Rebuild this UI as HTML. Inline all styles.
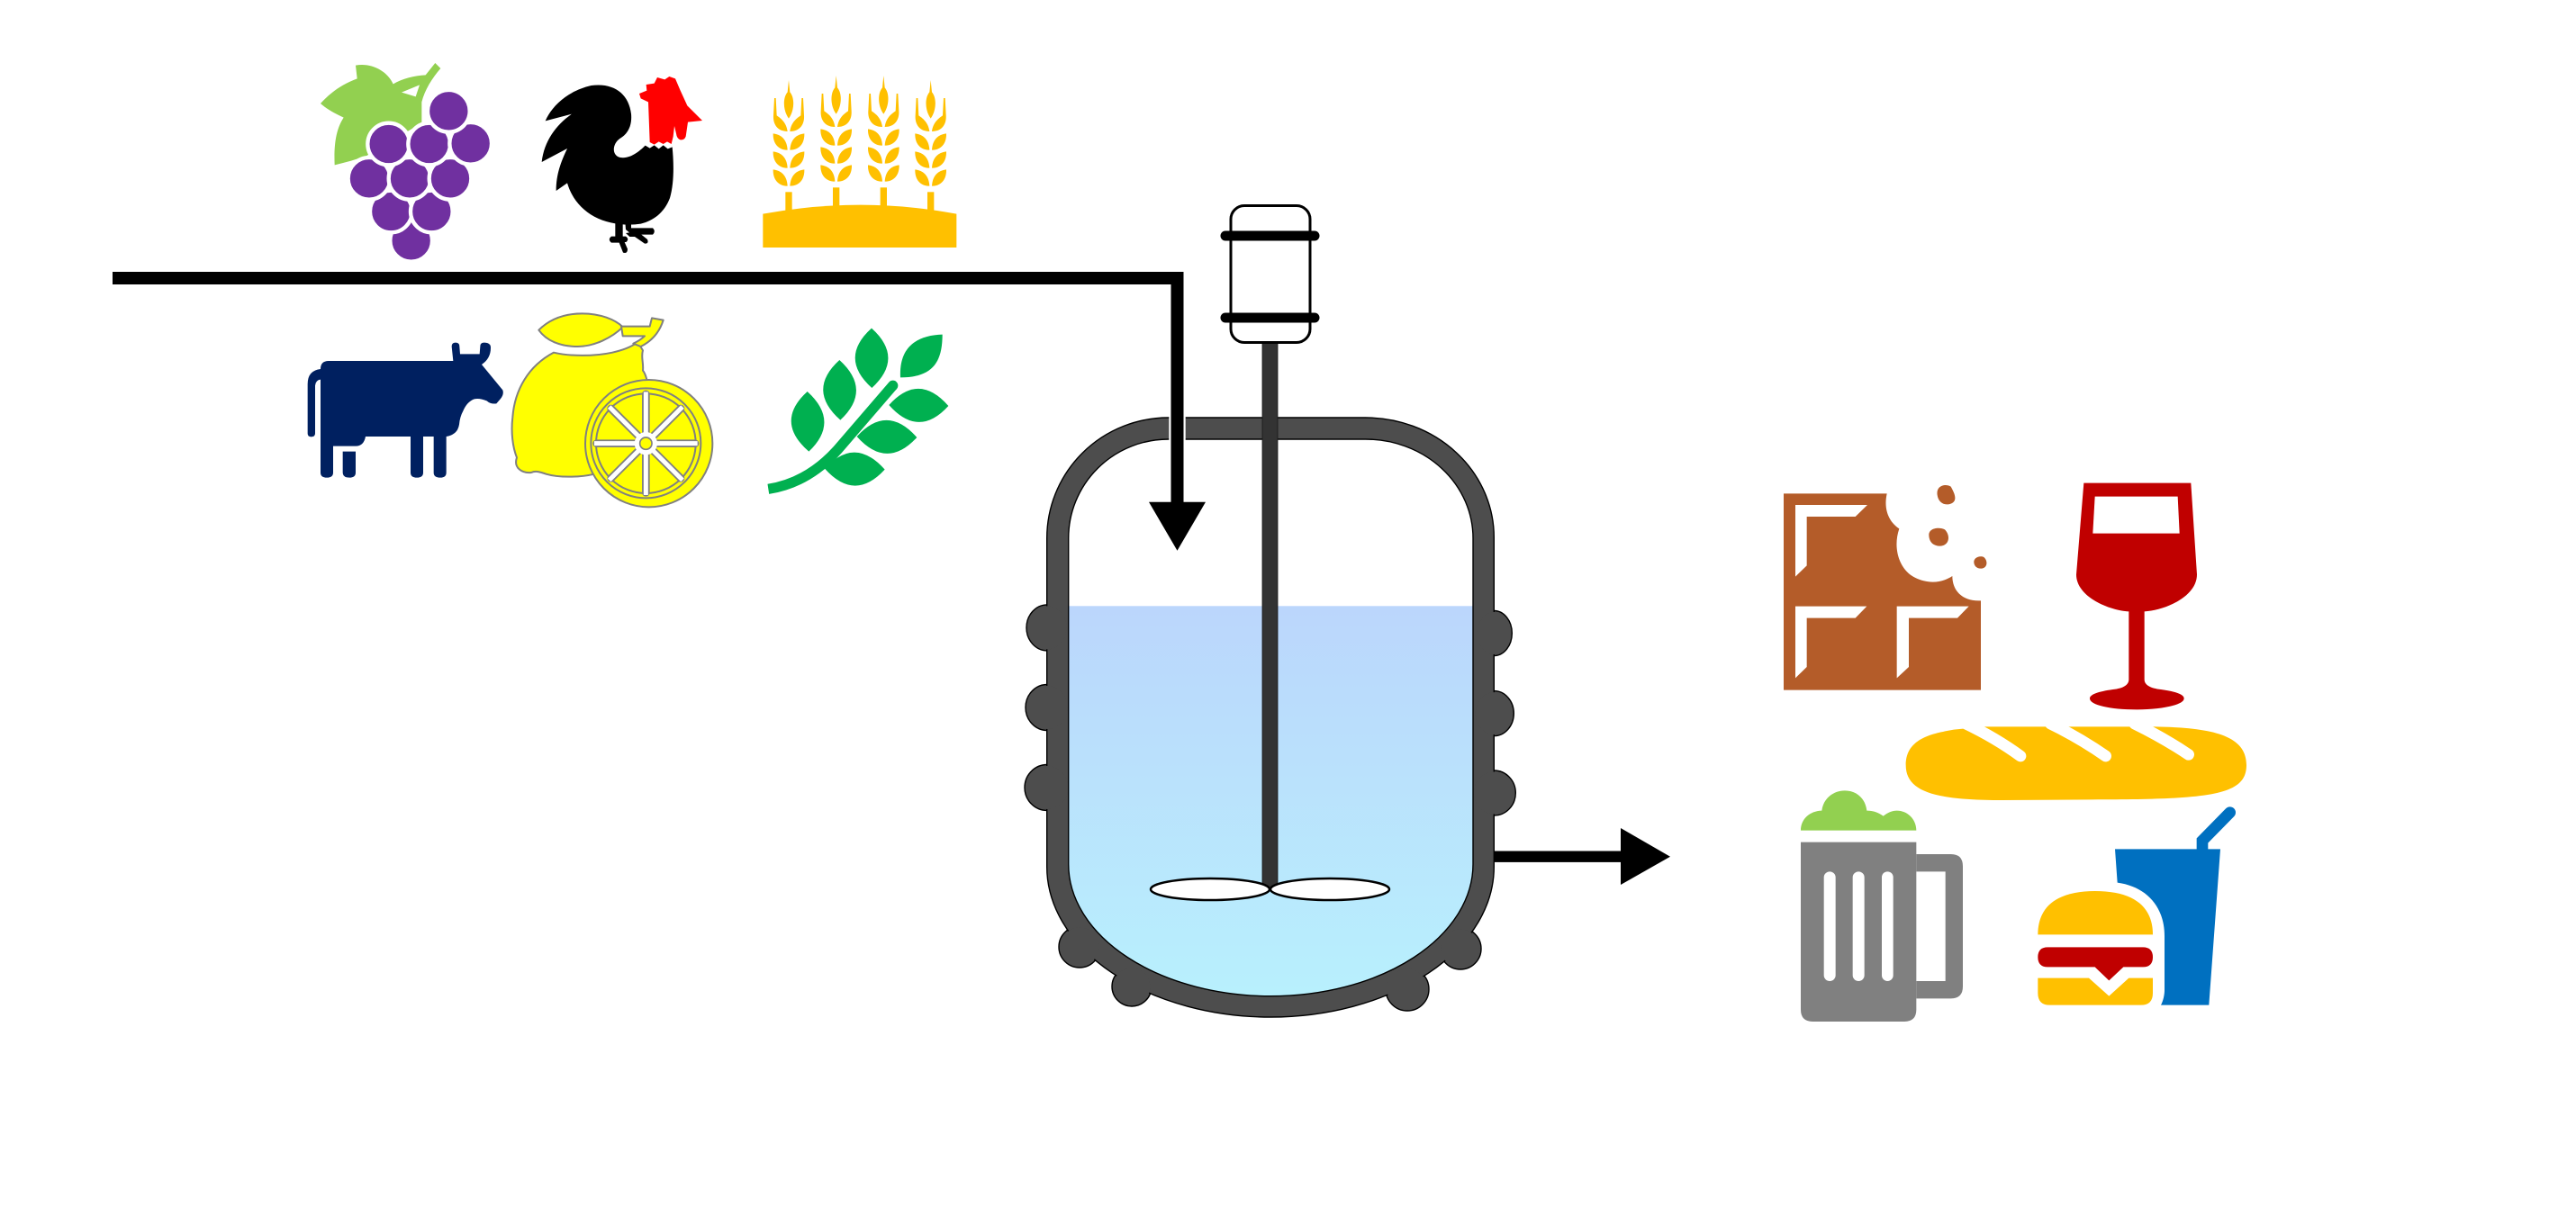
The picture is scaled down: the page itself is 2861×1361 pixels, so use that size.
<!DOCTYPE html>
<html><head><meta charset="utf-8"><style>
html,body{margin:0;padding:0;background:#fff;}
svg{display:block;}
</style></head><body>
<svg width="2861" height="1361" viewBox="0 0 2861 1361" xmlns="http://www.w3.org/2000/svg">
<defs>
  <linearGradient id="liq" x1="0" y1="673" x2="0" y2="1107" gradientUnits="userSpaceOnUse">
    <stop offset="0" stop-color="#bbd6fc"/>
    <stop offset="1" stop-color="#b8f0fd"/>
  </linearGradient>
  <clipPath id="innerClip">
    <path d="M1186.7,960 L1186.7,598 A111,110 0 0 1 1297.7,488 L1516.7,488 A119.3,110 0 0 1 1636,598 L1636,960 A224.65,146.7 0 0 1 1186.7,960 Z"/>
  </clipPath>
  <g id="wh" fill="#ffc000">
    <path d="M0,0 L4,40 C20,58 20,100 0,128 C-20,100 -20,58 -4,40 Z"/>
    <path d="M-4,171 C-35,171 -53,150 -51,118 L-48,60 L-43,60 L-40,118 C-28,126 -8,140 -4,171 Z"/>
    <path d="M4,171 C35,171 53,150 51,118 L48,60 L43,60 L40,118 C28,126 8,140 4,171 Z"/>
    <path d="M-4,233 C-35,233 -53,211 -52,178 C-25,181 -6,198 -4,233 Z"/>
    <path d="M4,233 C35,233 53,211 52,178 C25,181 6,198 4,233 Z"/>
    <path d="M-4,293 C-35,293 -53,271 -52,238 C-25,241 -6,258 -4,293 Z"/>
    <path d="M4,293 C35,293 53,271 52,238 C25,241 6,258 4,293 Z"/>
    <path d="M-4,353 C-35,353 -53,331 -52,298 C-25,301 -6,318 -4,353 Z"/>
    <path d="M4,353 C35,353 53,331 52,298 C25,301 6,318 4,353 Z"/>
    <rect x="-11" y="373" width="22" height="80"/>
  </g>
</defs>

<!-- ============ GRAPES (zoom4 coords) ============ -->
<g transform="translate(340,60) scale(0.33333)">
  <path fill="#92d050" d="M48,165 C80,130 120,100 170,82 L165,38 C215,28 270,55 290,100 C320,82 360,72 398,70 L430,30 L448,48 C420,80 395,120 385,160 L385,230 L200,340 L150,356 L95,370 C92,300 100,250 125,212 C100,200 70,185 48,165 Z"/>
  <path fill="#fff" d="M318,128 L365,142 L378,103 Z"/>
  <g fill="#7030a0" stroke="#fff" stroke-width="13">
    <circle cx="350" cy="622" r="70"/>
    <circle cx="283" cy="525" r="70"/>
    <circle cx="418" cy="525" r="70"/>
    <circle cx="210" cy="415" r="70"/>
    <circle cx="345" cy="415" r="70"/>
    <circle cx="480" cy="415" r="70"/>
    <circle cx="275" cy="300" r="70"/>
    <circle cx="410" cy="300" r="70"/>
    <circle cx="548" cy="298" r="70"/>
    <circle cx="475" cy="190" r="70"/>
  </g>
</g>

<!-- ============ ROOSTER (zoom coords offset 595,80) ============ -->
<g transform="translate(595,80) scale(0.33333)">
  <path fill="#000" d="M32,163 C55,110 110,62 185,45 C260,35 310,72 318,140 C322,185 302,210 280,222 C255,240 252,278 282,285 C312,290 342,268 365,245 L380,254 L395,244 L410,256 L425,244 L440,256 L455,250 C460,300 462,370 447,420 C428,470 392,495 350,506 C300,514 240,506 195,482 C150,456 120,420 105,370 L68,396 C68,340 84,300 105,255 L20,300 C28,230 68,176 120,140 Z"/>
  <path fill="#000" d="M265,495 L290,495 L290,548 L300,548 Q313,557 301,567 L296,567 L306,590 Q306,607 291,602 L278,569 L252,569 Q239,558 252,548 L265,548 Z"/>
  <path fill="#000" d="M298,500 L318,500 L318,520 L390,520 Q401,531 390,542 L352,542 L372,558 Q378,573 363,572 L330,549 L313,549 L300,537 L312,535 L300,525 Z"/>
  <path fill="#ff0000" d="M345,72 L370,62 L368,42 L395,38 L405,18 L430,25 L445,15 L465,22 L482,62 L505,112 L555,162 L507,167 L500,215 Q495,228 482,226 Q470,222 468,205 L462,180 L458,215 L452,240 L438,232 L425,240 L410,232 L395,242 L380,234 L378,180 L375,100 L350,88 Z"/>
</g>

<!-- ============ WHEAT + OLIVE (zoom5 coords) ============ -->
<g transform="translate(830,70) scale(0.33333)">
  <use href="#wh" transform="translate(138,57)"/>
  <use href="#wh" transform="translate(296,42)"/>
  <use href="#wh" transform="translate(454,42)"/>
  <use href="#wh" transform="translate(611,57)"/>
  <path fill="#ffc000" d="M52,503 Q380,443 697,503 L697,615 L52,615 Z"/>
  <g fill="#00b050">
    <path d="M70,1420 Q200,1400 300,1290 L485,1075" fill="none" stroke="#00b050" stroke-width="34"/>
    <circle cx="485" cy="1075" r="17"/>
    <path d="M200,1095 Q310,1195 205,1295 Q90,1195 200,1095 Z"/>
    <path d="M307,990 Q417,1090 310,1190 Q197,1090 307,990 Z"/>
    <path d="M414,884 Q524,983 415,1083 Q304,983 414,884 Z"/>
    <path d="M472,1140 Q571,1030 670,1143 Q571,1252 472,1140 Z"/>
    <path d="M365,1245 Q465,1135 565,1248 Q465,1357 365,1245 Z"/>
    <path d="M258,1352 Q358,1242 458,1355 Q358,1464 258,1352 Z"/>
    <path d="M510,1048 C505,950 560,908 650,905 C650,1000 615,1048 510,1048 Z"/>
  </g>
</g>

<!-- ============ COW (zoom6 coords) ============ -->
<g transform="translate(330,330) scale(0.33333)">
  <path fill="#002060" d="M78,240 Q78,213 105,213 L520,213 L515,165 Q515,152 528,152 Q541,152 541,165 L543,190 L608,190 L610,165 Q610,152 623,152 Q646,152 645,170 Q645,205 615,225 L685,310 Q690,325 677,340 L664,355 Q645,358 632,346 Q608,336 590,340 Q565,350 553,380 Q542,400 540,425 Q535,458 497,465 L497,585 Q497,602 477,602 Q455,602 455,585 L455,465 L420,465 L420,585 Q420,602 399,602 Q378,602 378,585 L378,465 L228,465 Q222,497 195,497 L120,497 L120,585 Q120,602 99,602 Q78,602 78,585 Z"/>
  <path fill="#002060" d="M152,515 L195,515 L195,585 Q195,602 174,602 Q152,602 152,585 Z"/>
  <path fill="#002060" d="M35,455 L35,290 Q35,245 78,240 L78,275 Q62,277 60,295 L60,455 Q60,466 47,466 Q35,466 35,455 Z"/>
</g>

<!-- ============ LEMON (zoom coords offset 560,340) ============ -->
<g transform="translate(560,340) scale(0.33333)">
  <g stroke="#808080" stroke-width="6" fill="#ffff00" stroke-linejoin="round">
    <path d="M165,155 C220,168 300,168 360,155 C400,146 430,132 445,120 L462,148 C455,170 465,190 462,215 C470,225 472,235 475,245 L480,250 L300,560 C250,572 180,572 140,560 C120,553 105,548 90,555 C60,558 30,540 42,505 C28,470 22,420 28,370 C35,280 80,200 165,155 Z"/>
    <path d="M115,80 C150,45 200,25 260,25 C320,25 370,45 395,70 C360,105 300,135 245,135 C185,135 140,115 115,80 Z"/>
    <path d="M390,68 L485,68 L492,40 L530,47 C518,85 495,115 455,135 L430,125 C445,118 458,110 468,100 L395,100 Z"/>
    <circle cx="482" cy="458" r="212"/>
    <circle cx="472" cy="457" r="183"/>
    <circle cx="472" cy="458" r="166"/>
  </g>
  <g stroke="#808080" stroke-width="26" stroke-linecap="round">
    <line x1="308" y1="458" x2="636" y2="458"/>
    <line x1="472" y1="294" x2="472" y2="622"/>
    <line x1="356" y1="342" x2="588" y2="574"/>
    <line x1="356" y1="574" x2="588" y2="342"/>
  </g>
  <g stroke="#fff" stroke-width="15">
    <line x1="300" y1="458" x2="644" y2="458"/>
    <line x1="472" y1="286" x2="472" y2="630"/>
    <line x1="350" y1="336" x2="594" y2="580"/>
    <line x1="350" y1="580" x2="594" y2="336"/>
  </g>
  <circle cx="472" cy="458" r="38" fill="#fff"/>
  <circle cx="472" cy="458" r="20" fill="#ffff00" stroke="#808080" stroke-width="5"/>
</g>

<!-- ============ VESSEL ============ -->
<g stroke="#000" stroke-width="1.4" fill="#4d4d4d">
  <ellipse cx="1163" cy="697.4" rx="23" ry="25.5"/>
  <ellipse cx="1163" cy="786" rx="24" ry="25.5"/>
  <ellipse cx="1163" cy="875" rx="25" ry="25.5"/>
  <ellipse cx="1659.3" cy="703.5" rx="20" ry="25"/>
  <ellipse cx="1659.3" cy="792.6" rx="22" ry="25"/>
  <ellipse cx="1659.3" cy="881" rx="24" ry="25"/>
  <circle cx="1199" cy="1052" r="23"/>
  <circle cx="1257" cy="1096" r="22"/>
  <circle cx="1563" cy="1099" r="24"/>
  <circle cx="1622" cy="1054" r="23"/>
  <path d="M1162.7,963 L1162.7,598 A135,134 0 0 1 1297.7,464 L1516.7,464 A142.6,133 0 0 1 1659.3,597 L1659.3,963 A248.3,167 0 0 1 1162.7,963 Z"/>
</g>
<g fill="#4d4d4d">
  <ellipse cx="1163" cy="697.4" rx="21.5" ry="24"/>
  <ellipse cx="1163" cy="786" rx="22.5" ry="24"/>
  <ellipse cx="1163" cy="875" rx="23.5" ry="24"/>
  <ellipse cx="1659.3" cy="703.5" rx="18.5" ry="23.5"/>
  <ellipse cx="1659.3" cy="792.6" rx="20.5" ry="23.5"/>
  <ellipse cx="1659.3" cy="881" rx="22.5" ry="23.5"/>
  <circle cx="1199" cy="1052" r="21.5"/>
  <circle cx="1257" cy="1096" r="20.5"/>
  <circle cx="1563" cy="1099" r="22.5"/>
  <circle cx="1622" cy="1054" r="21.5"/>
</g>
<path fill="#fff" d="M1186.7,960 L1186.7,598 A111,110 0 0 1 1297.7,488 L1516.7,488 A119.3,110 0 0 1 1636,598 L1636,960 A224.65,146.7 0 0 1 1186.7,960 Z"/>
<rect x="1150" y="673.3" width="520" height="460" fill="url(#liq)" clip-path="url(#innerClip)"/>
<path fill="none" stroke="#000" stroke-width="1.4" d="M1186.7,960 L1186.7,598 A111,110 0 0 1 1297.7,488 L1516.7,488 A119.3,110 0 0 1 1636,598 L1636,960 A224.65,146.7 0 0 1 1186.7,960 Z"/>
<rect x="1298.3" y="461" width="18.4" height="30" fill="#fff"/>

<!-- shaft -->
<rect x="1402" y="380" width="17" height="608" fill="#333" stroke="#1a1a1a" stroke-width="0.8"/>
<!-- impeller -->
<ellipse cx="1344" cy="988" rx="66" ry="12" fill="#fff" stroke="#000" stroke-width="2.5"/>
<ellipse cx="1477" cy="988" rx="66" ry="12" fill="#fff" stroke="#000" stroke-width="2.5"/>
<!-- motor -->
<rect x="1367" y="228.5" width="88" height="152" rx="15" ry="15" fill="#fff" stroke="#000" stroke-width="3"/>
<line x1="1361" y1="262" x2="1460" y2="262" stroke="#000" stroke-width="11" stroke-linecap="round"/>
<line x1="1361" y1="353" x2="1460" y2="353" stroke="#000" stroke-width="11" stroke-linecap="round"/>

<!-- feed line -->
<polyline points="125,309 1307.5,309 1307.5,562" fill="none" stroke="#000" stroke-width="14" stroke-linejoin="miter"/>
<polygon points="1276,557.7 1339,557.7 1307.5,611.7" fill="#000"/>

<!-- outlet -->
<rect x="1659" y="945.5" width="143" height="12.4" fill="#000"/>
<polygon points="1800,920 1855,951.7 1800,983" fill="#000"/>

<!-- ============ CHOCOLATE + WINE (zoom7 coords) ============ -->
<g transform="translate(1970,520) scale(0.33333)">
  <path fill="#b45c29" d="M33,85 L377,85 C365,140 385,180 418,202 C395,270 420,340 470,365 C520,390 565,380 595,360 C595,410 630,445 690,442 L690,740 L33,740 Z"/>
  <g fill="#fff">
    <polygon points="72,123 312,123 272,162 110,162 110,325 72,362"/>
    <polygon points="72,461 310,461 272,500 110,500 110,663 72,700"/>
    <polygon points="410,461 650,461 612,500 450,500 450,663 410,700"/>
  </g>
  <g fill="#b45c29">
    <path d="M545,90 C540,60 570,50 590,62 C600,80 610,100 600,112 C585,128 550,125 545,90 Z"/>
    <path d="M517,225 C515,200 550,195 570,205 C590,225 585,258 555,260 C530,260 518,245 517,225 Z"/>
    <path d="M667,315 C665,300 685,290 700,297 C715,310 712,335 690,335 C675,335 668,325 667,315 Z"/>
  </g>
  <path fill="#c00000" d="M1033,50 L1390,50 L1410,355 C1410,430 1300,475 1235,478 L1235,705 C1235,725 1260,735 1290,738 C1340,745 1367,755 1367,768 C1367,790 1290,805 1210,805 C1120,805 1053,790 1053,768 C1053,755 1080,745 1130,738 C1160,735 1183,725 1183,705 L1183,478 C1120,475 1008,430 1008,355 Z"/>
  <polygon fill="#fff" points="1070,95 1346,95 1352,218 1063,218"/>
</g>

<!-- ============ BAGUETTE, BEER, BURGER, SODA (zoom8 coords) ============ -->
<g transform="translate(1990,790) scale(0.33333)">
  <path fill="#ffc000" d="M540,62 L640,52 L1210,52 C1400,55 1515,80 1515,180 C1515,280 1400,295 1000,295 L700,297 C480,297 380,270 380,180 C380,95 460,75 540,62 Z"/>
  <g stroke="#fff" stroke-width="38" stroke-linecap="round" fill="none">
    <path d="M580,42 Q680,90 762,150"/>
    <path d="M862,42 Q960,90 1046,150"/>
    <path d="M1142,42 Q1240,90 1322,145"/>
  </g>
  <path fill="#92d050" d="M30,398 C30,360 60,333 100,332 C105,290 140,265 177,265 C215,265 245,290 250,332 C275,332 290,340 305,350 C320,338 335,332 350,332 C385,332 415,360 415,398 Z"/>
  <path fill="#808080" d="M30,437 L415,437 L415,995 Q415,1035 375,1035 L70,1035 Q30,1035 30,995 Z"/>
  <path fill="#808080" fill-rule="evenodd" d="M415,477 L530,477 Q570,477 570,517 L570,918 Q570,958 530,958 L415,958 Z M415,535 L512,535 L512,900 L415,900 Z"/>
  <g fill="#fff">
    <rect x="107" y="535" width="39" height="365" rx="19.5"/>
    <rect x="203" y="535" width="39" height="365" rx="19.5"/>
    <rect x="300" y="535" width="38" height="365" rx="19"/>
  </g>
  <path fill="#0070c0" d="M1077,460 L1428,460 L1390,980 L1230,980 C1238,965 1242,945 1242,930 L1242,750 C1242,650 1180,585 1085,572 Z"/>
  <path d="M1368,462 L1368,432 L1460,338" fill="none" stroke="#0070c0" stroke-width="38" stroke-linecap="round"/>
  <path fill="#ffc000" d="M820,745 C820,640 900,600 1010,600 C1150,600 1203,660 1203,745 Z"/>
  <path fill="#c00000" d="M853,787 L1170,787 Q1203,787 1203,820 Q1203,853 1170,853 L1105,853 L1057,898 L1010,853 L853,853 Q820,853 820,820 Q820,787 853,787 Z"/>
  <path fill="#ffc000" d="M820,890 L990,890 L1057,950 L1123,890 L1203,890 L1203,940 Q1203,980 1163,980 L860,980 Q820,980 820,940 Z"/>
</g>
</svg>
</body></html>
